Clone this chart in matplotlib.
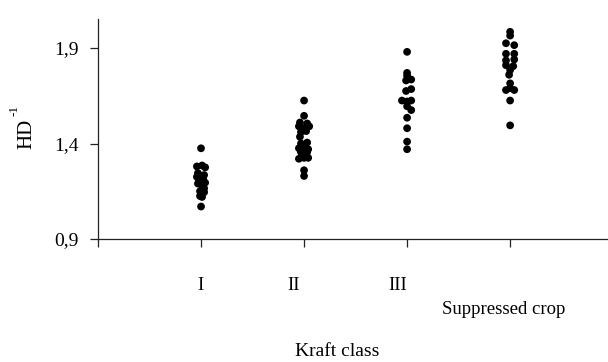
import matplotlib
matplotlib.use("Agg")
import matplotlib.pyplot as plt
from matplotlib.transforms import ScaledTranslation

plt.rcParams['font.family'] = ['Liberation Serif', 'DejaVu Serif']

# ---- data ----
categories = ["I", "II", "III", "Suppressed crop"]
tick_labels = ["", "I", "II", "III", "Suppressed crop"]

class1_x = [1.00, 0.96, 1.01, 1.04, 0.97, 1.03, 1.00, 0.96, 1.02, 0.98, 1.04, 0.97, 1.01, 1.03, 0.99, 1.03, 0.99, 1.01, 1.00]
class1_y = [1.375, 1.28, 1.285, 1.275, 1.245, 1.235, 1.225, 1.225, 1.215, 1.20, 1.195, 1.19, 1.18, 1.165, 1.15, 1.145, 1.125, 1.12, 1.07]

class2_x = [2.00, 2.00, 1.96, 2.03, 1.95, 2.05, 2.00, 1.97, 2.02, 1.96, 1.97, 2.03, 1.95, 2.00, 2.04, 1.97, 2.03, 1.95, 2.00, 2.04, 2.00, 2.00]
class2_y = [1.625, 1.545, 1.51, 1.505, 1.49, 1.49, 1.48, 1.46, 1.465, 1.435, 1.40, 1.405, 1.375, 1.38, 1.37, 1.355, 1.355, 1.32, 1.325, 1.325, 1.26, 1.23]

class3_x = [3.00, 3.00, 3.00, 3.04, 2.99, 3.04, 2.99, 2.95, 3.00, 3.04, 3.00, 3.04, 3.00, 3.00, 3.00, 3.00]
class3_y = [1.88, 1.77, 1.755, 1.735, 1.73, 1.685, 1.675, 1.625, 1.62, 1.625, 1.595, 1.575, 1.535, 1.48, 1.41, 1.37]

class4_x = [4.00, 4.00, 3.96, 4.04, 3.96, 4.04, 3.96, 4.04, 3.96, 4.03, 4.00, 3.99, 4.00, 3.96, 4.04, 4.00, 4.00, 4.00]
class4_y = [1.985, 1.965, 1.925, 1.915, 1.87, 1.87, 1.835, 1.84, 1.81, 1.805, 1.785, 1.76, 1.715, 1.68, 1.68, 1.69, 1.625, 1.495]

y_ticks = [0.9, 1.4, 1.9]
y_tick_labels = ["0,9", "1,4", "1,9"]

# ---- figure ----
W, H, DPI = 608, 362, 100
fig = plt.figure(figsize=(W / DPI, H / DPI), dpi=DPI)
ax_left, ax_right, ax_top, ax_bottom = 98, 608, 19, 239
ax = fig.add_axes([ax_left / W, (H - ax_bottom) / H,
                   (ax_right - ax_left) / W, (ax_bottom - ax_top) / H])

for xs, ys in [(class1_x, class1_y), (class2_x, class2_y),
               (class3_x, class3_y), (class4_x, class4_y)]:
    ax.scatter(xs, ys, s=31, color='black', edgecolors='none', zorder=3, clip_on=False)

ax.set_xlim(0, 4.95)
ax.set_ylim(0.9, 2.052)

ax.spines['top'].set_visible(False)
ax.spines['right'].set_visible(False)
for sp in ['left', 'bottom']:
    ax.spines[sp].set_linewidth(0.9)
    ax.spines[sp].set_color('#222222')

ax.set_yticks(y_ticks)
ax.set_yticklabels(y_tick_labels, fontsize=14)
ax.set_xticks(range(len(tick_labels)))
ax.set_xticklabels(tick_labels, fontsize=13.5)
ax.tick_params(axis='y', direction='out', length=5.5, width=0.9, pad=8.5, color='#222222')
ax.tick_params(axis='x', direction='out', length=5.5, width=0.9, pad=22, color='#222222')

# per-label pixel offsets (dx, dy) to mimic the original placement
offsets = [(0, 0), (-1, 0), (-10, 0), (-9, 0), (-6, -24)]
for lbl, (dx, dy) in zip(ax.get_xticklabels(), offsets):
    lbl.set_transform(lbl.get_transform() +
                      ScaledTranslation(dx / DPI, dy / DPI, fig.dpi_scale_trans))

aw = ax_right - ax_left
ah = ax_bottom - ax_top
ax.set_ylabel("HD", fontsize=15)
ax.yaxis.set_label_coords((36 - ax_left) / aw, (ax_bottom - 134) / ah)
fig.text(14 / W, (H - 110) / H, "-1", rotation=90, fontsize=9.5,
         ha='center', va='center')
ax.set_xlabel("Kraft class", fontsize=14)
ax.xaxis.set_label_coords((337.5 - ax_left) / aw, (ax_bottom - 343) / ah)

fig.savefig("out.png", dpi=DPI)
